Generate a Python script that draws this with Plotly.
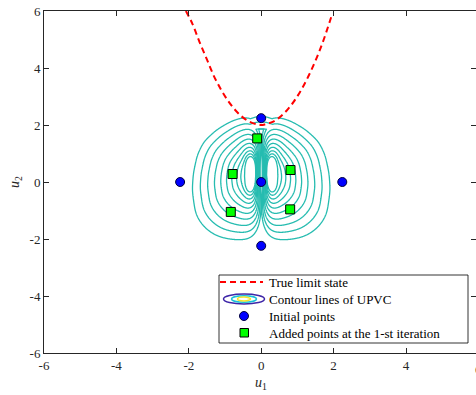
import numpy as np
import plotly.graph_objects as go

# ---------------- data ----------------
# True limit state curve
limit_u1 = [-2.08, -1.9, -1.7, -1.5, -1.3, -1.1, -0.9, -0.7, -0.5, -0.3, -0.1, 0.0,
            0.1, 0.3, 0.5, 0.7, 0.9, 1.1, 1.3, 1.5, 1.7, 1.95]
limit_u2 = [6.0, 5.55, 4.9, 4.3, 3.7, 3.22, 2.82, 2.5, 2.26, 2.1, 2.02, 2.0,
            2.02, 2.1, 2.26, 2.5, 2.82, 3.22, 3.7, 4.26, 4.9, 5.85]

# Initial points
init_u1 = [0.0, 0.0, 0.0, -2.24, 2.24]
init_u2 = [0.0, 2.24, -2.24, 0.0, 0.0]

# Added points at the 1-st iteration
added_u1 = [-0.11, -0.79, 0.81, -0.84, 0.80]
added_u2 = [1.53, 0.28, 0.42, -1.05, -0.96]

# Tick labels
tick_vals = [-6, -4, -2, 0, 2, 4, 6]
tick_text = ["-6", "-4", "-2", "0", "2", "4", "6"]

# UPVC contour outlines (right lobe; left lobe is its mirror)
outer_u1 = [0.05, 0.2, 0.38, 0.75, 1.21, 1.58, 1.76, 1.87, 1.9, 1.8, 1.57, 1.21, 0.74,
            0.3, 0.12, 0.04, 0.03, 0.035]
outer_u2 = [2.05, 2.25, 2.29, 2.18, 1.85, 1.42, 0.95, 0.3, -0.3, -1.16, -1.6, -1.92, -2.03,
            -2.02, -1.9, -1.6, 0.0, 1.6]
inner_u1 = [0.3, 0.4, 0.45, 0.46, 0.44, 0.38, 0.3, 0.22, 0.17, 0.15, 0.16, 0.2]
inner_u2 = [0.95, 0.8, 0.5, 0.2, -0.1, -0.32, -0.39, -0.3, -0.05, 0.25, 0.55, 0.82]
# outer two contours that join over the top (bell shapes)
bell_u1 = [-0.45, -0.3, -0.15, 0.0, 0.15, 0.3, 0.45]
bell_outer_u2 = [2.12, 2.22, 2.28, 2.31, 2.28, 2.22, 2.12]
bell_second_u2 = [1.93, 2.03, 2.09, 2.12, 2.09, 2.03, 1.93]
n_levels = 10

# ---------------- build the field from the outlines ----------------
cx, cy = 0.3, 0.25


def radial_profile(px_, py_, smooth_deg=5.0):
    px_ = np.asarray(px_ + px_[:1], float)
    py_ = np.asarray(py_ + py_[:1], float)
    xs, ys = [], []
    for i in range(len(px_) - 1):
        tt = np.linspace(0, 1, 200, endpoint=False)
        xs.append(px_[i] + (px_[i + 1] - px_[i]) * tt)
        ys.append(py_[i] + (py_[i + 1] - py_[i]) * tt)
    xs = np.concatenate(xs)
    ys = np.concatenate(ys)
    ang = np.arctan2(ys - cy, xs - cx)
    rad = np.hypot(xs - cx, ys - cy)
    o = np.argsort(ang)
    ang, rad = ang[o], rad[o]
    ang3 = np.concatenate([ang - 2 * np.pi, ang, ang + 2 * np.pi])
    rad3 = np.concatenate([rad, rad, rad])
    n = 2880
    au = np.linspace(-np.pi, np.pi, n, endpoint=False)
    ru = np.interp(au, ang3, rad3)
    sig = smooth_deg / 360.0 * n
    k = np.arange(-int(4 * sig), int(4 * sig) + 1)
    w = np.exp(-0.5 * (k / sig) ** 2)
    w /= w.sum()
    ru_s = np.zeros_like(ru)
    for kk, ww in zip(k, w):
        ru_s += ww * np.roll(ru, kk)
    au3 = np.concatenate([au - 2 * np.pi, au, au + 2 * np.pi])
    ru3 = np.concatenate([ru_s, ru_s, ru_s])
    return lambda th: np.interp(th, au3, ru3)


r_out_f = radial_profile(outer_u1, outer_u2)
r_in_f = radial_profile(inner_u1, inner_u2)

grid_u1 = np.concatenate([np.linspace(-2.3, -0.3, 161),
                          np.linspace(-0.3, 0.3, 241)[1:-1],
                          np.linspace(0.3, 2.3, 161)])
grid_u2 = np.linspace(-2.4, 2.6, 401)
X, Y = np.meshgrid(grid_u1, grid_u2)


def lobe(xx, yy):
    th = np.arctan2(yy - cy, xx - cx)
    r = np.hypot(xx - cx, yy - cy)
    ri, ro = r_in_f(th), r_out_f(th)
    t = (r - ri) / (ro - ri)
    a = 0.6
    s = np.where(t > 0, (-a + np.sqrt(a * a + 4 * (1 - a) * np.maximum(t, 0))) / (2 * (1 - a)), t / a)
    return 1.0 - s


step = 1.0 / (n_levels - 1)
b1 = np.interp(X, bell_u1, bell_outer_u2)
b2 = np.interp(X, bell_u1, bell_second_u2)
z_cap = np.minimum((b1 - Y) / (b1 - b2) * step, step + 0.03)
z_cap = np.where((np.abs(X) < 0.45) & (Y > 1.85), z_cap, -1.0)
upvc = np.round(np.maximum(np.maximum(lobe(X, Y), lobe(-X, Y)), z_cap), 4)

# ---------------- figure ----------------
W, H = 476, 395
ML, MR, MT, MB = 44, 0, 11, 42
PW, PH = W - ML - MR, H - MT - MB
px_per_unit = 36.2
x_max = -6 + PW / px_per_unit

teal = "#26BCB0"
axis_col = "#262626"
font_fam = "Liberation Serif, Times New Roman, serif"

fig = go.Figure()
fig.add_trace(go.Contour(
    x=grid_u1, y=grid_u2, z=upvc,
    contours=dict(start=0.0, end=1.0 + 1e-6, size=step, coloring="lines"),
    colorscale=[[0, teal], [1, teal]], showscale=False,
    line=dict(width=1.3, smoothing=1.0), hoverinfo="skip", showlegend=False))
fig.add_trace(go.Scatter(
    x=limit_u1, y=limit_u2, mode="lines", line_shape="spline",
    line=dict(color="#FF0000", width=2, dash="6px,4px"), showlegend=False))
fig.add_trace(go.Scatter(
    x=init_u1, y=init_u2, mode="markers",
    marker=dict(symbol="circle", size=9, color="#0000FF", line=dict(color="#000040", width=1)),
    showlegend=False))
fig.add_trace(go.Scatter(
    x=added_u1, y=added_u2, mode="markers",
    marker=dict(symbol="square", size=9, color="#00FF00", line=dict(color="#000000", width=1)),
    showlegend=False))

# ---------------- legend (drawn manually) ----------------
def px(xp):
    return (xp - ML) / PW

def py(yp):
    return (H - MB - yp) / PH

shapes = []
annotations = []
shapes.append(dict(type="rect", xref="paper", yref="paper",
                   x0=px(219), x1=px(468), y0=py(343), y1=py(275),
                   fillcolor="white", line=dict(color="#000000", width=0.8), layer="above"))
shapes.append(dict(type="line", xref="paper", yref="paper",
                   x0=px(220), x1=px(263), y0=py(282), y1=py(282),
                   line=dict(color="#FF0000", width=2, dash="6px,4px"), layer="above"))
for (rx, ry, col) in [(20.5, 5.0, "#3E26A8"), (12.5, 3.3, "#1AC0D8"), (6.5, 1.9, "#F5E62A")]:
    shapes.append(dict(type="circle", xref="paper", yref="paper",
                       x0=px(244 - rx), x1=px(244 + rx), y0=py(299 + ry), y1=py(299 - ry),
                       line=dict(color=col, width=1.5), layer="above"))
shapes.append(dict(type="circle", xref="paper", yref="paper",
                   x0=px(239.5), x1=px(248.5), y0=py(320.5), y1=py(311.5),
                   fillcolor="#0000FF", line=dict(color="#000040", width=1), layer="above"))
shapes.append(dict(type="rect", xref="paper", yref="paper",
                   x0=px(240), x1=px(248.5), y0=py(337), y1=py(328.5),
                   fillcolor="#00FF00", line=dict(color="#000000", width=1), layer="above"))
legend_texts = ["True limit state", "Contour lines of UPVC", "Initial points",
                "Added points at the 1-st iteration"]
for txt, yy in zip(legend_texts, [282, 299, 316, 333]):
    annotations.append(dict(text=txt, xref="paper", yref="paper", x=px(267), y=py(yy),
                            xanchor="left", yanchor="middle", showarrow=False,
                            font=dict(family=font_fam, size=13, color="#000000")))

# axis titles
annotations.append(dict(text="<i>u</i><sub>1</sub>", xref="paper", yref="paper",
                        x=px(261), y=py(383), xanchor="center", yanchor="middle",
                        showarrow=False, font=dict(family=font_fam, size=14, color=axis_col)))
annotations.append(dict(text="<i>u</i><sub>2</sub>", xref="paper", yref="paper",
                        x=px(15), y=py(182), xanchor="center", yanchor="middle", textangle=-90,
                        showarrow=False, font=dict(family=font_fam, size=14, color=axis_col)))
# clipped last x tick label
annotations.append(dict(text="6", xref="paper", yref="paper",
                        x=px(478.5), y=py(369), xanchor="center", yanchor="middle",
                        showarrow=False, font=dict(family=font_fam, size=13, color=axis_col)))

axis_common = dict(showgrid=False, zeroline=False, showline=True, linecolor=axis_col,
                   linewidth=1, mirror="ticks", ticks="inside", ticklen=5, tickcolor=axis_col,
                   tickwidth=1, tickvals=tick_vals, ticktext=tick_text, automargin=False,
                   tickfont=dict(family=font_fam, size=13, color=axis_col))

fig.update_layout(
    width=W, height=H,
    margin=dict(l=ML, r=MR, t=MT, b=MB, autoexpand=False),
    paper_bgcolor="white", plot_bgcolor="white",
    xaxis=dict(range=[-6, x_max], **axis_common),
    yaxis=dict(range=[-6, 6], **axis_common),
    shapes=shapes, annotations=annotations,
    showlegend=False,
)
fig.write_html("out.html", config={"displayModeBar": False},
               post_script="document.body.style.margin='0';document.body.style.overflow='hidden';")
